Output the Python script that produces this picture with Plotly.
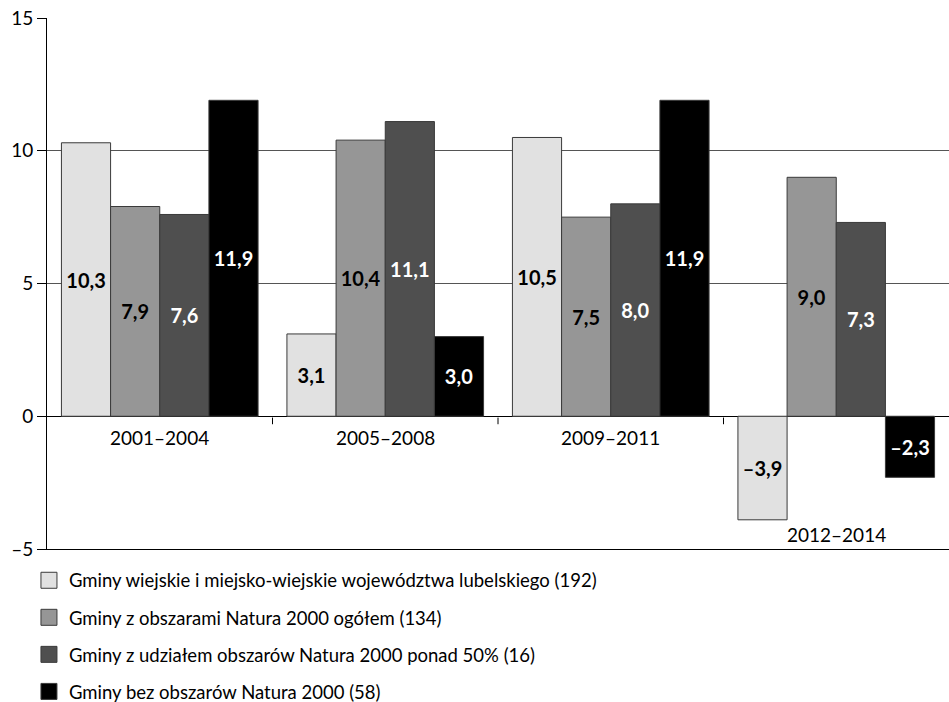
import plotly.graph_objects as go

categories = ["2001–2004", "2005–2008", "2009–2011", "2012–2014"]
series_names = [
    "Gminy wiejskie i miejsko-wiejskie województwa lubelskiego (192)",
    "Gminy z obszarami Natura 2000 ogółem (134)",
    "Gminy z udziałem obszarów Natura 2000 ponad 50% (16)",
    "Gminy bez obszarów Natura 2000 (58)",
]
s1 = [10.3, 3.1, 10.5, -3.9]
s2 = [7.9, 10.4, 7.5, 9.0]
s3 = [7.6, 11.1, 8.0, 7.3]
s4 = [11.9, 3.0, 11.9, -2.3]
series_values = [s1, s2, s3, s4]
colors = ["#e1e1e1", "#969696", "#4f4f4f", "#000000"]
text_colors = ["#000000", "#000000", "#ffffff", "#ffffff"]
y_tickvals = [-5, 0, 5, 10, 15]
y_ticktext = ["–5", "0", "5", "10", "15"]
cat_label_y = [-0.8, -0.8, -0.8, -4.45]

FONT = "Lato"


def fmt(v):
    s = f"{abs(v):.1f}".replace(".", ",")
    return ("–" + s) if v < 0 else s


fig = go.Figure()
for i, (name, vals) in enumerate(zip(series_names, series_values)):
    fig.add_trace(go.Bar(
        x=list(range(len(categories))),
        y=vals,
        name=name,
        showlegend=False,
        marker=dict(color=colors[i], line=dict(color="#3a3a3a", width=1)),
        text=[fmt(v) for v in vals],
        textposition="inside",
        insidetextanchor="middle",
        constraintext="none",
        textangle=0,
        textfont=dict(family=FONT, size=20, color=text_colors[i], weight="bold"),
        hoverinfo="skip",
    ))

# legend entries with larger square swatches
for i, name in enumerate(series_names):
    fig.add_trace(go.Scatter(
        x=[None], y=[None], mode="markers", name=name, legendgroup=f"g{i}",
        marker=dict(symbol="square", size=16, color=colors[i],
                    line=dict(color="#3a3a3a", width=1)),
        hoverinfo="skip",
    ))

for j, c in enumerate(categories):
    fig.add_annotation(x=j, y=cat_label_y[j], xref="x", yref="y", text=c,
                       showarrow=False, font=dict(family=FONT, size=19, color="#000"))

for b in [0.5, 1.5, 2.5]:
    fig.add_shape(type="line", xref="x", yref="y", x0=b, x1=b, y0=-0.05, y1=-0.3,
                  line=dict(color="#000", width=1))

fig.update_layout(
    width=949, height=702,
    margin=dict(l=47, r=0, t=18, b=153, autoexpand=False),
    paper_bgcolor="white", plot_bgcolor="white",
    barmode="group", bargap=0.128, bargroupgap=0,
    font=dict(family=FONT, size=19, color="#000"),
    showlegend=True,
    legend=dict(
        x=-0.02, xanchor="left", y=-0.024, yanchor="top",
        traceorder="grouped", tracegroupgap=10, itemsizing="trace",
        font=dict(family=FONT, size=18.5, color="#000"),
        bgcolor="rgba(0,0,0,0)",
    ),
    xaxis=dict(range=[-0.5, 3.5], showticklabels=False, ticks="", showgrid=False,
               showline=True, linecolor="#000", linewidth=1, zeroline=False,
               fixedrange=True, automargin=False),
    yaxis=dict(range=[-5, 15], tickvals=y_tickvals, ticktext=y_ticktext,
               ticks="outside", ticklen=9, tickcolor="#000", showgrid=True,
               gridcolor="#555555", gridwidth=1, showline=True, linecolor="#000",
               linewidth=1, zeroline=True, zerolinecolor="#000", zerolinewidth=1,
               tickfont=dict(family=FONT, size=19), fixedrange=True, automargin=False),
)

fig.write_html(
    "out.html",
    config={"displayModeBar": False, "staticPlot": True},
    post_script="document.body.style.margin='0';document.body.style.overflow='hidden';",
)
